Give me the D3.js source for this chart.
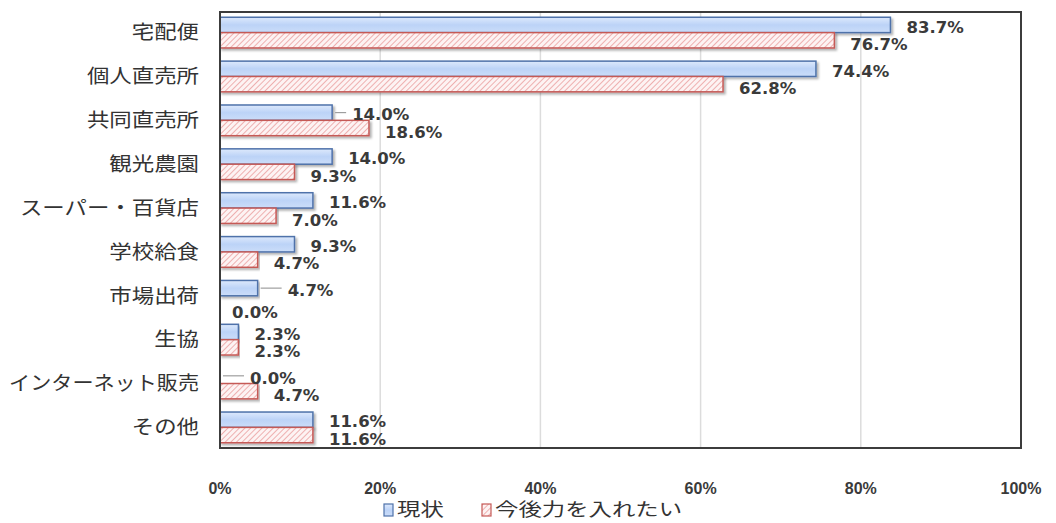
<!DOCTYPE html>
<html>
<head>
<meta charset="utf-8">
<script src="https://cdn.jsdelivr.net/npm/d3@7"></script>
<style>
  body { margin: 0; background: #fff; }
  svg { display: block; }
  text { font-family: "Noto Sans CJK JP", "DejaVu Sans", sans-serif; }
  .val { font-family: "DejaVu Sans", sans-serif; font-weight: bold; font-size: 16.5px; fill: #3a3a3a; }
  .tick-lbl { font-family: "Liberation Sans", sans-serif; font-weight: bold; font-size: 16px; fill: #3a3a3a; }
</style>
</head>
<body>
<div id="chart"></div>
<script>
// chart data
var categories = ['宅配便', '個人直売所', '共同直売所', '観光農園', 'スーパー・百貨店', '学校給食', '市場出荷', '生協', 'インターネット販売', 'その他'];
var seriesNames = ['現状', '今後力を入れたい'];
var current = [83.7, 74.4, 14.0, 14.0, 11.6, 9.3, 4.7, 2.3, 0.0, 11.6];
var future = [76.7, 62.8, 18.6, 9.3, 7.0, 4.7, 0.0, 2.3, 4.7, 11.6];
var xTicks = [0, 20, 40, 60, 80, 100];

const WIDTH = 1056;
const HEIGHT = 523;
const margin = {left: 220, right: 35, top: 12, bottom: 75};
const LABEL_MAX_W = 190;

var svg = d3.select('#chart').append('svg')
            .attr('width', WIDTH)
            .attr('height', HEIGHT);

var defs = svg.append('defs');

// light blue gradient for current bars
var grad = defs.append('linearGradient').attr('id', 'blueGrad')
               .attr('x1', 0).attr('y1', 0).attr('x2', 0).attr('y2', 1);
grad.append('stop').attr('offset', '0%').attr('stop-color', '#dde9fc');
grad.append('stop').attr('offset', '50%').attr('stop-color', '#bcd3f7');
grad.append('stop').attr('offset', '100%').attr('stop-color', '#cbddf9');

// red diagonal hatch for future bars
var pat = defs.append('pattern').attr('id', 'redHatch')
              .attr('patternUnits', 'userSpaceOnUse')
              .attr('width', 4).attr('height', 4)
              .attr('patternTransform', 'rotate(45)');
pat.append('rect').attr('width', 4).attr('height', 4).attr('fill', '#fdf3f3');
pat.append('line').attr('x1', 0).attr('y1', 0).attr('x2', 0).attr('y2', 4)
   .attr('stroke', '#eeb0b0').attr('stroke-width', 2);

// shadow
var filt = defs.append('filter').attr('id', 'shadow').attr('x', '-5%').attr('y', '-20%').attr('width', '110%').attr('height', '160%');
filt.append('feDropShadow').attr('dx', 2).attr('dy', 2).attr('stdDeviation', 1.2)
    .attr('flood-color', '#000').attr('flood-opacity', 0.3);

var x = d3.scaleLinear().domain([0, 100]).range([margin.left, WIDTH - margin.right]);
var y = d3.scaleBand().domain(categories).range([margin.top, HEIGHT - margin.bottom]).paddingInner(0.3).paddingOuter(0.12);
var sub = d3.scaleBand().domain([0, 1]).range([0, y.bandwidth()]);

// gridlines
svg.append('g').selectAll('line').data(xTicks.slice(1, -1)).enter()
   .append('line')
   .attr('x1', d => x(d)).attr('x2', d => x(d))
   .attr('y1', margin.top).attr('y2', HEIGHT - margin.bottom)
   .attr('stroke', '#dcdcdc').attr('stroke-width', 1.5);

// bars
var rows = svg.append('g').selectAll('g.row').data(categories).enter()
              .append('g').classed('row', true)
              .attr('transform', d => 'translate(0,' + y(d) + ')');

rows.append('rect')
    .attr('x', x(0))
    .attr('y', sub(0))
    .attr('width', (d, i) => x(current[i]) - x(0))
    .attr('height', sub.bandwidth())
    .attr('fill', 'url(#blueGrad)')
    .attr('stroke', '#4f72aa').attr('stroke-width', 1.5)
    .attr('filter', 'url(#shadow)')
    .style('display', (d, i) => current[i] > 0 ? null : 'none');

rows.append('rect')
    .attr('x', x(0))
    .attr('y', sub(1))
    .attr('width', (d, i) => x(future[i]) - x(0))
    .attr('height', sub.bandwidth())
    .attr('fill', 'url(#redHatch)')
    .attr('stroke', '#c55a57').attr('stroke-width', 1.5)
    .attr('filter', 'url(#shadow)')
    .style('display', (d, i) => future[i] > 0 ? null : 'none');

// value labels
function fmt(v) { return v.toFixed(1) + '%'; }
// labels pushed away from short bars get a leader line
var leaderRows = ['共同直売所', '市場出荷', 'インターネット販売'];

rows.each(function (d, i) {
  var g = d3.select(this);
  var cx = x(current[i]);
  var off = leaderRows.indexOf(d) >= 0 ? (current[i] > 10 ? 20 : 30) : 16;
  if (off > 16) {
    g.append('line')
     .attr('x1', cx + 3).attr('x2', cx + off - 6)
     .attr('y1', sub(0) + sub.bandwidth() / 2).attr('y2', sub(0) + sub.bandwidth() / 2)
     .attr('stroke', '#8c8c8c').attr('stroke-width', 1);
  }
  g.append('text').classed('val', true)
   .attr('x', cx + off)
   .attr('y', sub(0) + sub.bandwidth() / 2 + 2)
   .attr('dy', '0.35em')
   .text(fmt(current[i]));

  var fx = x(future[i]);
  var fy = sub(1) + sub.bandwidth() / 2 + 4;
  if (future[i] === 0) { fx = x(0) - 4; fy += 5; }
  g.append('text').classed('val', true)
   .attr('x', fx + 16)
   .attr('y', fy)
   .attr('dy', '0.35em')
   .text(fmt(future[i]));
});

// plot frame
svg.append('rect')
   .attr('x', x(0)).attr('y', margin.top)
   .attr('width', x(100) - x(0)).attr('height', HEIGHT - margin.bottom - margin.top)
   .attr('fill', 'none').attr('stroke', '#3c3c3c').attr('stroke-width', 2);

// category labels (glyphs in the original are slightly wide, but keep long ones inside)
svg.append('g').selectAll('text').data(categories).enter()
   .append('text')
   .attr('dy', '0.35em')
   .attr('text-anchor', 'end')
   .style('font-size', '19.5px')
   .style('fill', '#333')
   .text(d => d)
   .attr('transform', function (d) {
     var w = this.getComputedTextLength();
     var s = Math.min(1.15, LABEL_MAX_W / w);
     return 'translate(199,' + (y(d) + y.bandwidth() / 2) + ') scale(' + s + ',1)';
   });

// x tick labels
svg.append('g').selectAll('text').data(xTicks).enter()
   .append('text').classed('tick-lbl', true)
   .attr('x', d => x(d))
   .attr('y', 488)
   .attr('dy', '0.35em')
   .attr('text-anchor', 'middle')
   .text(d => d + '%');

// legend
var legend = svg.append('g').attr('transform', 'translate(384,510)');
var legendItems = legend.selectAll('g').data(seriesNames).enter()
                        .append('g')
                        .attr('transform', (d, i) => 'translate(' + (i * 98) + ',0)');
legendItems.append('rect')
           .attr('x', 0).attr('y', -6).attr('width', 9).attr('height', 12)
           .attr('fill', (d, i) => i === 0 ? 'url(#blueGrad)' : 'url(#redHatch)')
           .attr('stroke', (d, i) => i === 0 ? '#4f72aa' : '#c55a57')
           .attr('stroke-width', 1.2);
legendItems.append('text')
           .attr('transform', 'translate(13,0) scale(1.3,1)')
           .attr('dy', '0.35em')
           .style('font-size', '18px').style('fill', '#333')
           .text(d => d);
</script>
</body>
</html>
